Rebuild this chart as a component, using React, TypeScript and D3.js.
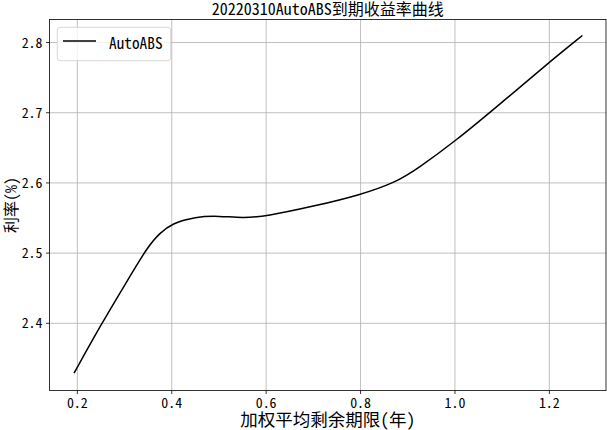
import React from "react";
import * as d3 from "d3";

const seriesName = "AutoABS";
const termYears = [0.193, 0.25, 0.30, 0.35, 0.375, 0.40, 0.45, 0.50, 0.55, 0.60, 0.70, 0.80, 0.875, 0.92, 1.00, 1.10, 1.20, 1.27];
const ratePct = [2.329, 2.398, 2.454, 2.5105, 2.5286, 2.542, 2.552, 2.553, 2.550, 2.5525, 2.5666, 2.583, 2.601, 2.620, 2.659, 2.715, 2.772, 2.81];
const xTicks = [0.2, 0.4, 0.6, 0.8, 1.0, 1.2];
const yTicks = [2.4, 2.5, 2.6, 2.7, 2.8];
const titleText = "20220310AutoABS到期收益率曲线";
const xLabel = "加权平均剩余期限(年)";
const yLabel = "利率(%)";

const W = 607, H = 430;
const L = 49.5, R = 606, T = 19.5, B = 390.5;
const FONT = '"Noto Sans Mono CJK SC", "Noto Sans CJK SC", sans-serif';

export default function App() {
  const x = d3.scaleLinear().domain([0.141, 1.32]).range([L, R]);
  const y = d3.scaleLinear().domain([2.3043, 2.8328]).range([B, T]);
  const pts = termYears.map((t, i) => [t, ratePct[i]] as [number, number]);
  const line = d3.line<[number, number]>().x(d => x(d[0])).y(d => y(d[1])).curve(d3.curveBasis);
  return (
    <svg width={W} height={H} style={{ position: "absolute", left: 0, top: 0, background: "#fff" }} fontFamily={FONT}>
      <rect x={0} y={0} width={W} height={H} fill="#fff" />
      {xTicks.map(t => (
        <line key={"gx" + t} x1={x(t)} x2={x(t)} y1={T} y2={B} stroke="#b0b0b0" strokeWidth={0.8} />
      ))}
      {yTicks.map(t => (
        <line key={"gy" + t} x1={L} x2={R} y1={y(t)} y2={y(t)} stroke="#b0b0b0" strokeWidth={0.8} />
      ))}
      <path d={line(pts) || ""} fill="none" stroke="#000" strokeWidth={1.5} />
      <rect x={L} y={T} width={R - L} height={B - T} fill="none" stroke="#000" strokeWidth={0.8} />
      {xTicks.map(t => (
        <g key={"tx" + t}>
          <line x1={x(t)} x2={x(t)} y1={B} y2={B + 3.5} stroke="#000" strokeWidth={0.8} />
          <text x={x(t)} y={408} fontSize={13.9} textAnchor="middle" fill="#000">{d3.format(".1f")(t)}</text>
        </g>
      ))}
      {yTicks.map(t => (
        <g key={"ty" + t}>
          <line x1={L - 3.5} x2={L} y1={y(t)} y2={y(t)} stroke="#000" strokeWidth={0.8} />
          <text x={L - 7} y={y(t) + 5} fontSize={13.9} textAnchor="end" fill="#000">{d3.format(".1f")(t)}</text>
        </g>
      ))}
      <text x={(L + R) / 2} y={15} fontSize={16} textAnchor="middle" fill="#000">{titleText}</text>
      <text x={(L + R) / 2} y={426} fontSize={17.5} textAnchor="middle" fill="#000">{xLabel}</text>
      <text transform={`translate(17, ${(T + B) / 2}) rotate(-90)`} fontSize={16} textAnchor="middle" fill="#000">{yLabel}</text>
      <g>
        <rect x={57.3} y={27.3} width={113.4} height={33.4} rx={3} fill="#fff" fillOpacity={0.8} stroke="#cccccc" strokeWidth={0.8} />
        <line x1={63} x2={96} y1={41} y2={41} stroke="#000" strokeWidth={1.5} />
        <text x={109} y={49} fontSize={15.3} fill="#000">{seriesName}</text>
      </g>
    </svg>
  );
}
